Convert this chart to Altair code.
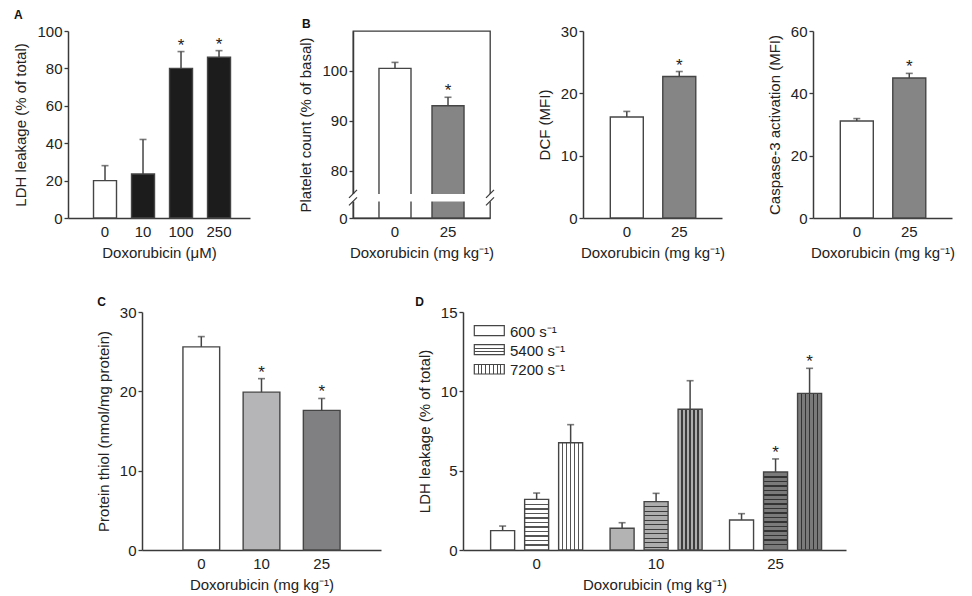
import altair as alt
import pandas as pd

FONT = "Liberation Sans"
INK = "#3a3a3a"
BAR_STROKE = "#454545"

# ---------------- data ----------------
# Panel A
a_dose = ["0", "10", "100", "250"]
a_mean = [20.0, 23.5, 80.0, 86.0]
a_err = [8.0, 18.5, 9.0, 3.5]
a_sig = [False, False, True, True]
a_fill = ["#ffffff", "#1c1c1c", "#1c1c1c", "#1c1c1c"]

# Panel B (platelet count)
b_dose = ["0", "25"]
b_mean = [100.5, 93.0]
b_err = [1.2, 1.7]
b_sig = [False, True]
two_fill = ["#ffffff", "#858585"]
b_break = [73.8, 75.3]          # axis break (data units)

# DCF
dcf_mean = [16.2, 22.7]
dcf_err = [0.9, 0.8]
dcf_sig = [False, True]

# Caspase-3
casp_mean = [31.1, 44.9]
casp_err = [0.8, 1.5]
casp_sig = [False, True]

# Panel C
c_dose = ["0", "10", "25"]
c_mean = [25.6, 19.9, 17.6]
c_err = [1.3, 1.7, 1.5]
c_sig = [False, True, True]
c_fill = ["#ffffff", "#b5b5b7", "#808082"]

# Panel D
d_dose = ["0", "10", "25"]
d_series = ["600 s⁻¹", "5400 s⁻¹", "7200 s⁻¹"]
d_mean_600 = [1.22, 1.37, 1.89]
d_err_600 = [0.29, 0.35, 0.40]
d_mean_5400 = [3.19, 3.05, 4.92]
d_err_5400 = [0.40, 0.52, 0.82]
d_mean_7200 = [6.76, 8.87, 9.87]
d_err_7200 = [1.14, 1.80, 1.58]
d_sig_600 = [False, False, False]
d_sig_5400 = [False, False, True]
d_sig_7200 = [False, False, True]
d_bg = ["#ffffff", "#adadad", "#7a7a7a"]
d_bg_600 = ["#ffffff", "#b3b3b3", "#ffffff"]
d_line = ["#555555", "#3c3c3c", "#333333"]

X_MG = "Doxorubicin (mg kg⁻¹)"


def frame(doses, means, errs, sigs, fills):
    return pd.DataFrame({
        "dose": doses,
        "mean": means,
        "top": [m + e for m, e in zip(means, errs)],
        "sig": sigs,
        "fill": fills,
    })


def make_x(doses, title, band):
    return alt.X("dose:N", sort=list(doses), title=title,
                 scale=alt.Scale(paddingInner=band[0], paddingOuter=band[1], align=band[2]),
                 axis=alt.Axis(labelAngle=0, ticks=False, labelPadding=6, titlePadding=6))


def make_y(field, title, scale, ticks):
    return alt.Y(f"{field}:Q", title=title, scale=scale,
                 axis=alt.Axis(values=ticks, tickSize=4, labelPadding=2, titlePadding=8))


def label_title(text, offset, dx=0, dy=0):
    return alt.TitleParams(text, anchor="start", frame="bounds", fontSize=12,
                           fontWeight="bold", font=FONT, offset=offset, dx=dx, dy=dy,
                           color="#111")


def panel(df, width, height, y_title, x_title, y_scale, y_ticks, band,
          label=None, label_offset=4, label_dx=0, label_dy=0, extra=None, view=None):
    X = make_x(df["dose"], x_title, band)
    Y = lambda f: make_y(f, y_title, y_scale, y_ticks)
    base = alt.Chart(df)
    bars = base.mark_bar(stroke=BAR_STROKE, strokeWidth=1.4).encode(
        x=X, y=Y("mean"), fill=alt.Fill("fill:N", scale=None))
    rule = base.mark_rule(color=BAR_STROKE, strokeWidth=1.5).encode(
        x=X, y=Y("mean"), y2="top:Q")
    cap = base.mark_tick(color=BAR_STROKE, thickness=1.6, size=7).encode(x=X, y=Y("top"))
    star = base.transform_filter("datum.sig").mark_text(
        text="*", fontSize=17, baseline="alphabetic", dy=-1, font=FONT, color="#222"
    ).encode(x=X, y=Y("top"))
    layers = [bars]
    if extra:
        layers += extra(Y)
    layers += [rule, cap, star]
    props = dict(width=width, height=height)
    if label:
        props["title"] = label_title(label, label_offset, label_dx, label_dy)
    if view is not None:
        props["view"] = view
    return alt.layer(*layers).properties(**props)


# ---------------- Panel A ----------------
pA = panel(frame(a_dose, a_mean, a_err, a_sig, a_fill), 182, 187,
           "LDH leakage (% of total)", "Doxorubicin (μM)",
           alt.Scale(domain=[0, 100], nice=False), [0, 20, 40, 60, 80, 100],
           (0.395, 0.592, 0.567), label="A", label_offset=2)

# ---------------- Panel B ----------------
B_W, B_H = 137, 187
b_scale = alt.Scale(domain=[0, 73.8, 108], range=[187, 170.4, 0], nice=False, zero=False)


def b_extra(Y):
    gap = alt.Chart(pd.DataFrame({"lo": [b_break[0]], "hi": [b_break[1]]})).mark_rect(
        fill="white").encode(x=alt.value(-8), x2=alt.value(B_W + 8), y=Y("lo"), y2="hi:Q")
    one = pd.DataFrame({"v": [0]})
    slashes = []
    for xc in (0, B_W):
        for yc in (162.9, 170.4):
            slashes.append(alt.Chart(one).mark_rule(color=INK, strokeWidth=1.2).encode(
                x=alt.value(xc - 4), x2=alt.value(xc + 4),
                y=alt.value(yc + 4), y2=alt.value(yc - 4)))
    return [gap] + slashes


pB = panel(frame(b_dose, b_mean, b_err, b_sig, two_fill), B_W, B_H,
           "Platelet count (% of basal)", X_MG, b_scale, [0, 80, 90, 100],
           (0.396, 0.49, 0.5), label="B", label_offset=0, label_dx=3,
           extra=b_extra, view=alt.ViewBackground(stroke=INK, strokeWidth=1.3))

# ---------------- DCF & Caspase ----------------
pDCF = panel(frame(b_dose, dcf_mean, dcf_err, dcf_sig, two_fill), 139, 187,
             "DCF (MFI)", X_MG, alt.Scale(domain=[0, 30], nice=False), [0, 10, 20, 30],
             (0.371, 0.51, 0.51))
pCasp = panel(frame(b_dose, casp_mean, casp_err, casp_sig, two_fill), 139, 187,
              "Caspase-3 activation (MFI)", X_MG, alt.Scale(domain=[0, 60], nice=False),
              [0, 20, 40, 60], (0.371, 0.51, 0.51))

# ---------------- Panel C ----------------
pC = panel(frame(c_dose, c_mean, c_err, c_sig, c_fill), 239, 238,
           "Protein thiol (nmol/mg protein)", X_MG,
           alt.Scale(domain=[0, 30], nice=False), [0, 10, 20, 30],
           (0.39, 0.68, 0.5), label="C", label_offset=0, label_dx=1, label_dy=4)

# ---------------- Panel D ----------------
D_W, D_H, D_MAX = 383, 238, 15


def hstripes(bg, line, h_px, spacing=4.5, lw=1.3):
    stops = [{"offset": 0, "color": bg}]
    p = spacing
    while p + lw < h_px - 1.5:
        a, b = round(p / h_px, 5), round((p + lw) / h_px, 5)
        stops += [{"offset": a, "color": bg}, {"offset": a, "color": line},
                  {"offset": b, "color": line}, {"offset": b, "color": bg}]
        p += spacing
    stops.append({"offset": 1, "color": bg})
    return {"gradient": "linear", "x1": 0, "y1": 0, "x2": 0, "y2": 1, "stops": stops}


def vstripes(bg, line, w_px, spacing=4.0, lw=1.3):
    stops = [{"offset": 0, "color": bg}]
    p = spacing
    while p + lw < w_px - 1.5:
        a, b = round((p - lw / 2) / w_px, 5), round((p + lw / 2) / w_px, 5)
        stops += [{"offset": a, "color": bg}, {"offset": a, "color": line},
                  {"offset": b, "color": line}, {"offset": b, "color": bg}]
        p += spacing
    stops.append({"offset": 1, "color": bg})
    return {"gradient": "linear", "x1": 0, "y1": 0, "x2": 1, "y2": 0, "stops": stops}


rows = []
series_data = [
    (d_series[0], d_mean_600, d_err_600, d_sig_600),
    (d_series[1], d_mean_5400, d_err_5400, d_sig_5400),
    (d_series[2], d_mean_7200, d_err_7200, d_sig_7200),
]
for i, dose in enumerate(d_dose):
    for s, means, errs, sigs in series_data:
        rows.append({"dose": dose, "series": s, "mean": means[i], "top": means[i] + errs[i],
                     "sig": sigs[i], "key": f"{dose}|{s}"})
df_d = pd.DataFrame(rows)

XD = alt.X("dose:N", sort=d_dose, title=X_MG,
           scale=alt.Scale(paddingInner=0.146, paddingOuter=0.176, align=0.538),
           axis=alt.Axis(labelAngle=0, ticks=False, labelPadding=6, titlePadding=6))
XO = alt.XOffset("series:N", sort=d_series, scale=alt.Scale(paddingInner=0.294, paddingOuter=0.147))
d_scale = alt.Scale(domain=[0, D_MAX], nice=False)
YD = lambda f: make_y(f, "LDH leakage (% of total)", d_scale, [0, 5, 10, 15])

d_layers = []
baseD = alt.Chart(df_d)
for i, dose in enumerate(d_dose):
    for j, s in enumerate(d_series):
        m = df_d[(df_d["dose"] == dose) & (df_d["series"] == s)]["mean"].iloc[0]
        if j == 0:
            fill = d_bg_600[i]
        elif j == 1:
            fill = hstripes(d_bg[i], d_line[i], m * D_H / D_MAX)
        else:
            fill = vstripes(d_bg[i], d_line[i], 24)
        d_layers.append(
            baseD.transform_filter(f"datum.key == '{dose}|{s}'").mark_bar(
                fill=fill, stroke=BAR_STROKE, strokeWidth=1.4
            ).encode(x=XD, xOffset=XO, y=YD("mean")))

d_rule = baseD.mark_rule(color=BAR_STROKE, strokeWidth=1.5).encode(
    x=XD, xOffset=XO, y=YD("mean"), y2="top:Q")
d_cap = baseD.mark_tick(color=BAR_STROKE, thickness=1.6, size=7).encode(
    x=XD, xOffset=XO, y=YD("top"))
d_star = baseD.transform_filter("datum.sig").mark_text(
    text="*", fontSize=17, baseline="alphabetic", dy=-1, font=FONT, color="#222"
).encode(x=XD, xOffset=XO, y=YD("top"))

# legend (positioned like legendX / legendY)
leg_df = pd.DataFrame({"series": d_series})
leg_fills = ["#ffffff", hstripes("#ffffff", "#4a4a4a", 10, spacing=3.3, lw=1.0),
             vstripes("#ffffff", "#4a4a4a", 30, spacing=3.8, lw=1.1)]
leg_rows = [(13.7, 23.7), (32.7, 42.7), (52.5, 62.0)]
leg_layers = []
for k, s in enumerate(d_series):
    y0, y1 = leg_rows[k]
    src = alt.Chart(leg_df).transform_filter(f"datum.series == '{s}'")
    leg_layers.append(src.mark_rect(fill=leg_fills[k], stroke=BAR_STROKE, strokeWidth=1.2).encode(
        x=alt.value(11.3), x2=alt.value(41.3), y=alt.value(y0), y2=alt.value(y1)))
    leg_layers.append(src.mark_text(align="left", baseline="middle", fontSize=15, font=FONT,
                                    color="#222").encode(
        x=alt.value(47), y=alt.value((y0 + y1) / 2 + 1), text="series:N"))

pD = alt.layer(*d_layers, d_rule, d_cap, d_star, *leg_layers).properties(
    width=D_W, height=D_H, title=label_title("D", 0, -2, 4))


# ---------------- layout ----------------
def spacer(w, h):
    return alt.Chart(pd.DataFrame({"v": [0]})).mark_text(text="").encode(
        x=alt.value(0), y=alt.value(0)).properties(width=w, height=h)


top = alt.hconcat(pA, spacer(22.7, 187), pB, spacer(12.7, 187), pDCF, spacer(10.3, 187), pCasp,
                  spacing=40, bounds="flush")
bottom = alt.hconcat(spacer(37, 238), pC, spacer(7.7, 238), pD, spacing=37, bounds="flush")

chart = alt.vconcat(top, bottom, spacing=281, bounds="flush").properties(
    padding={"left": 5, "top": 1, "right": 5, "bottom": 5}
).configure_view(stroke=None).configure_axis(
    labelFont=FONT, titleFont=FONT, labelFontSize=15, titleFontSize=15,
    titleFontWeight="normal", domainColor=INK, domainWidth=1.5, tickColor=INK,
    tickWidth=1.3, labelColor="#222", titleColor="#222", grid=False
).configure_title(font=FONT)

chart.save("out.html", embed_options={"renderer": "svg", "actions": False})
